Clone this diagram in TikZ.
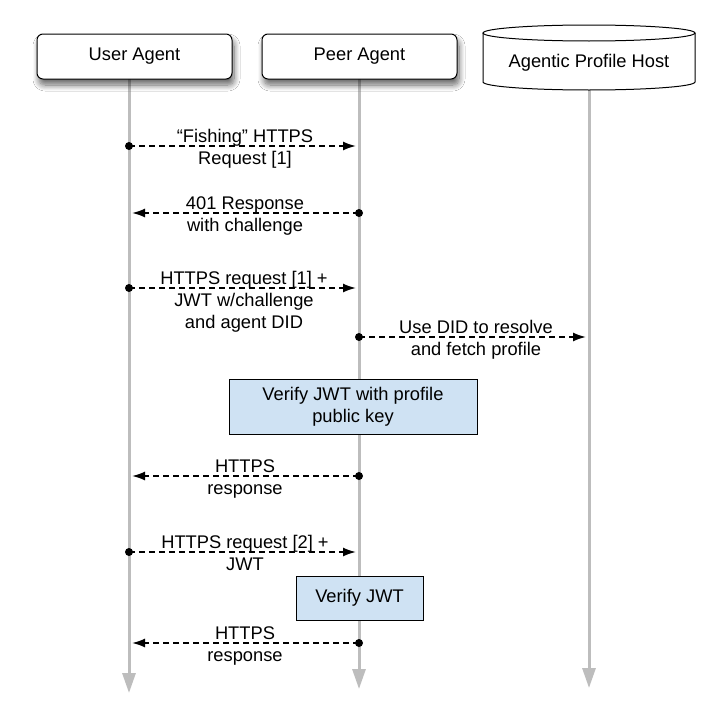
\documentclass[tikz,border=0pt]{standalone}
\usepackage{fontspec}
\setmainfont{Liberation Sans}
\usetikzlibrary{arrows.meta,shadows.blur}
\definecolor{lifegray}{HTML}{BDBDBD}
\definecolor{notefill}{HTML}{CFE2F3}
\newcommand{\tstr}{\rule{0pt}{14pt}}
\newcommand{\bstr}{\rule[-5pt]{0pt}{5pt}}
\tikzset{
  txt/.style={font=\fontsize{18.3}{22}\selectfont, align=center, inner sep=0pt},
  lbl/.style={txt, anchor=north},
  actor/.style={txt, draw=black, line width=1pt, fill=white, rounded corners=6pt,
    minimum width=195pt, minimum height=45pt,
    blur shadow={shadow xshift=2pt, shadow yshift=-6pt, shadow blur radius=6pt,
      shadow blur steps=10, shadow opacity=60}},
  lifeline/.style={draw=lifegray, line width=3pt, -{Triangle[length=20pt,width=13pt]}},
  msg/.style={draw=black, line width=1.8pt, dash pattern=on 6pt off 4pt,
    -{Latex[length=13pt,width=9pt]}, shorten >=3pt},
  dotend/.style={fill=black},
  note/.style={txt, draw=black, line width=1pt, fill=notefill},
}
\begin{document}
\begin{tikzpicture}[x=1pt,y=-1pt]
\useasboundingbox (0,0) rectangle (720,720);
\fill[white] (0,0) rectangle (720,720);

% lifeline anchors
\coordinate (uTop) at (129,79);
\coordinate (uBot) at (129,693);
\coordinate (pTop) at (359,79);
\coordinate (pBot) at (359,689);
\coordinate (hTop) at (589,90);
\coordinate (hBot) at (589,688);

% lifelines
\draw[lifeline] (uTop) -- (uBot);
\draw[lifeline] (pTop) -- (pBot);
\draw[lifeline] (hTop) -- (hBot);

% header boxes
\node[actor] (user) at (134.5,56.5) {User Agent};
\node[actor] (peer) at (359.5,56.5) {Peer Agent};

% cylinder
\draw[line width=1pt, fill=white] (483,33) -- (483,82) arc[start angle=180, end angle=0, x radius=106, y radius=8] -- (695,33);
\draw[line width=1pt, fill=white] (589,33) ellipse [x radius=106, y radius=8];
\node[txt] (host) at (589,63) {Agentic Profile Host};

% message end points
\coordinate (m1a) at (129,146); \coordinate (m1b) at (359,146);
\coordinate (m2a) at (359,213); \coordinate (m2b) at (129,213);
\coordinate (m3a) at (129,288); \coordinate (m3b) at (359,288);
\coordinate (m4a) at (359,337); \coordinate (m4b) at (589,337);
\coordinate (m5a) at (359,476); \coordinate (m5b) at (129,476);
\coordinate (m6a) at (129,552); \coordinate (m6b) at (359,552);
\coordinate (m7a) at (359,643); \coordinate (m7b) at (129,643);

% messages
\draw[msg] (m1a) -- (m1b); \fill[dotend] (m1a) circle (4);
\draw[msg] (m2a) -- (m2b); \fill[dotend] (m2a) circle (4);
\draw[msg] (m3a) -- (m3b); \fill[dotend] (m3a) circle (4);
\draw[msg] (m4a) -- (m4b); \fill[dotend] (m4a) circle (4);
\draw[msg] (m5a) -- (m5b); \fill[dotend] (m5a) circle (4);
\draw[msg] (m6a) -- (m6b); \fill[dotend] (m6a) circle (4);
\draw[msg] (m7a) -- (m7b); \fill[dotend] (m7a) circle (4);

% labels (top of node = first baseline - 14pt; first baseline = line - 4)
\node[lbl] (l1) at (245,128) {\tstr“Fishing” HTTPS\\Request [1]\bstr};
\node[lbl] (l2) at (245,195) {\tstr 401 Response\\with challenge\bstr};
\node[lbl] (l3) at (244,270) {\tstr HTTPS request [1] +\\JWT w/challenge\\and agent DID\bstr};
\node[lbl] (l4) at (476,319) {\tstr Use DID to resolve\\and fetch profile\bstr};
\node[lbl] (l5) at (245,458) {\tstr HTTPS\\response\bstr};
\node[lbl] (l6) at (245,534) {\tstr HTTPS request [2] +\\JWT\bstr};
\node[lbl] (l7) at (245,625) {\tstr HTTPS\\response\bstr};

% notes
\node[note, minimum width=248pt, minimum height=55pt] (v1) at (353,406.5) {Verify JWT with profile\\public key};
\node[note, minimum width=127pt, minimum height=44pt] (v2) at (359.5,598) {Verify JWT};
\end{tikzpicture}
\end{document}
